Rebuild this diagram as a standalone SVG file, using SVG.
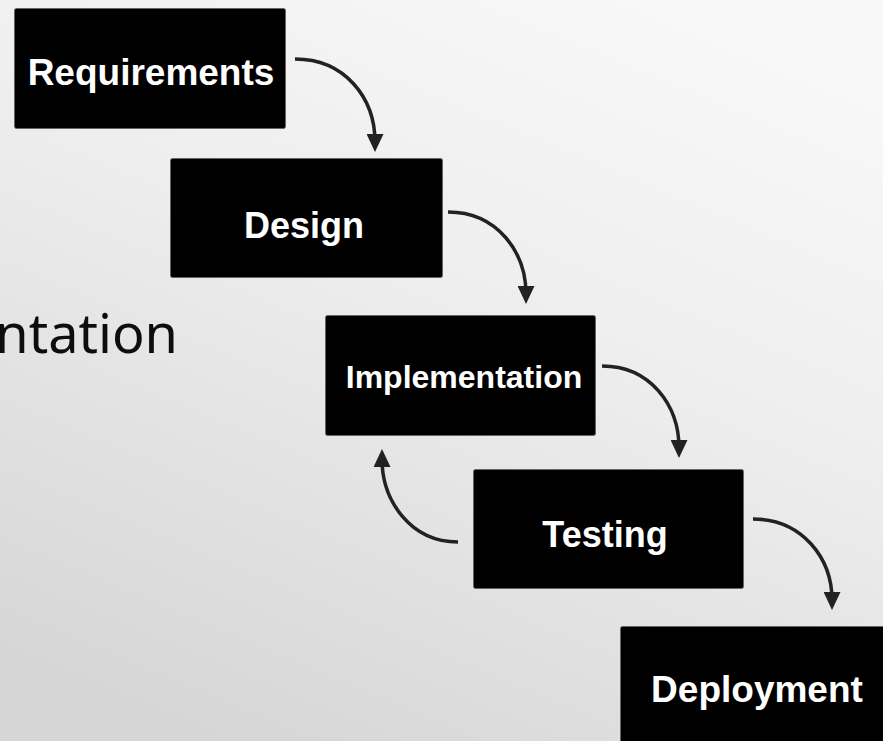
<svg xmlns="http://www.w3.org/2000/svg" width="883" height="741" viewBox="0 0 883 741">
  <defs>
    <linearGradient id="bg" x1="0.75" y1="0" x2="0.25" y2="1">
      <stop offset="0" stop-color="#f8f8f8"/>
      <stop offset="0.4" stop-color="#eeeeee"/>
      <stop offset="1" stop-color="#d6d6d6"/>
    </linearGradient>
    <marker id="arrow" viewBox="0 0 18 17" refX="8" refY="8.5" markerWidth="18" markerHeight="17" markerUnits="userSpaceOnUse" orient="auto">
      <path d="M0,0 L18,8.5 L0,17 z" fill="#222"/>
    </marker>
    <style>
      .box { fill: #000; stroke: #666; stroke-width: 1; }
      .lbl { fill: #fff; font-family: "Liberation Sans", Arial, sans-serif; font-weight: bold; text-anchor: middle; }
      .conn { fill: none; stroke: #222; stroke-width: 3.5; marker-end: url(#arrow); }
      .slide { fill: #0d0d0d; font-family: "Noto Sans", "Open Sans", sans-serif; }
    </style>
  </defs>
  <rect x="0" y="0" width="883" height="741" fill="url(#bg)"/>
  <text class="slide" x="178" y="353" font-size="54" text-anchor="end">ntation</text>

  <g id="requirements">
    <rect class="box" x="14.5" y="8.5" width="271" height="120" rx="2"/>
    <text class="lbl" x="151" y="85" font-size="37">Requirements</text>
  </g>
  <g id="design">
    <rect class="box" x="170.5" y="158.5" width="272" height="119" rx="2"/>
    <text class="lbl" x="304" y="238" font-size="36">Design</text>
  </g>
  <g id="implementation">
    <rect class="box" x="325.5" y="315.5" width="270" height="120" rx="2"/>
    <text class="lbl" x="464" y="388" font-size="32">Implementation</text>
  </g>
  <g id="testing">
    <rect class="box" x="473.5" y="469.5" width="270" height="119" rx="2"/>
    <text class="lbl" x="605" y="547" font-size="36">Testing</text>
  </g>
  <g id="deployment">
    <rect class="box" x="620.5" y="626.5" width="280" height="130" rx="2"/>
    <text class="lbl" x="757" y="702" font-size="37">Deployment</text>
  </g>

  <g id="connectors">
    <path class="conn" d="M295,59 C345,59 375,98 375,142"/>
    <path class="conn" d="M448,212 C497,212 526,252 526,294"/>
    <path class="conn" d="M602,366 C650,366 679,405 679,448"/>
    <path class="conn" d="M458,542 C410,542 382,500 382,459"/>
    <path class="conn" d="M753,519 C802,519 832,558 832,600"/>
  </g>
</svg>
